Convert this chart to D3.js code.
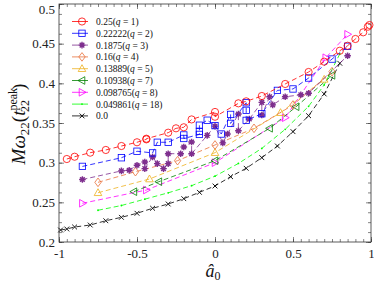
<!DOCTYPE html>
<html>
<head>
<meta charset="utf-8">
<script src="https://cdn.jsdelivr.net/npm/d3@7"></script>
<style>
body { margin: 0; background: #fff; }
text { font-family: "Liberation Serif", "DejaVu Serif", serif; }
</style>
</head>
<body>
<div id="chart"></div>
<script>
// data: [a0, M*omega22]
var series0 = [[-0.95,0.3046],[-0.9,0.3075],[-0.8,0.3126],[-0.7,0.316],[-0.6,0.321],[-0.5,0.3257],[-0.44,0.3294],[-0.44,0.3302],[-0.3,0.3378],[-0.25,0.3433],[-0.2,0.3446],[-0.15,0.3545],[0,0.3639],[0,0.3579],[0.15,0.3748],[0.2,0.3773],[0.3,0.384],[0.45,0.3992],[0.6,0.4143],[0.7,0.4273],[0.8,0.4411],[0.85,0.4474],[0.9,0.4559],[0.95,0.4643],[0.98,0.4714],[0.99,0.4735]];
var series1 = [[-0.85,0.2953],[-0.6,0.3062],[-0.5,0.3144],[-0.4,0.3123],[-0.37,0.3257],[-0.3,0.3257],[-0.2,0.3349],[-0.2,0.3305],[-0.1,0.3356],[-0.1,0.3395],[-0.1,0.3472],[-0.05,0.3535],[0,0.3467],[0.04,0.3361],[0.1,0.3608],[0.1,0.3495],[0.2,0.3755],[0.2,0.3659],[0.2,0.3533],[0.3,0.3617],[0.4,0.3911],[0.5,0.3929],[0.6,0.4067],[0.75,0.4306],[0.85,0.4467]];
var series2 = [[-0.85,0.2788],[-0.6,0.2896],[-0.55,0.2904],[-0.5,0.2967],[-0.45,0.3008],[-0.45,0.2925],[-0.4,0.3071],[-0.37,0.2988],[-0.33,0.2925],[-0.3,0.2988],[-0.3,0.3113],[-0.22,0.3113],[-0.2,0.3197],[-0.15,0.3260],[-0.15,0.3113],[-0.05,0.3344],[0,0.3460],[0.05,0.3250],[0.08,0.3361],[0.15,0.3613],[0.15,0.3403],[0.22,0.3550],[0.3,0.3760],[0.3,0.3600],[0.35,0.3830],[0.37,0.3729],[0.45,0.3830],[0.55,0.3856],[0.6,0.3875],[0.85,0.4348]];
var series3 = [[-0.75,0.2752],[-0.51,0.2886],[-0.24,0.3025],[0,0.3223],[0.25,0.3433],[0.5,0.3727],[0.75,0.4147]];
var series4 = [[-0.75,0.2621],[-0.42,0.2794],[0,0.3126],[0.42,0.363],[0.7,0.405]];
var series5 = [[-0.52,0.2634],[-0.36,0.276],[0,0.3025],[0.35,0.3433],[0.52,0.3705],[0.75,0.41]];
var series6 = [[-0.85,0.2488],[-0.44,0.2655],[0,0.300],[0.45,0.3567],[0.71,0.4323],[0.85,0.4618]];
var series7 = [[-0.75,0.240],[-0.6,0.246],[-0.45,0.254],[-0.3,0.262],[-0.15,0.271],[0,0.283],[0.15,0.299],[0.3,0.318],[0.45,0.342],[0.6,0.371],[0.7,0.398],[0.8,0.437]];
var series8 = [[-0.99,0.2151],[-0.95,0.2164],[-0.9,0.2189],[-0.8,0.2214],[-0.7,0.2268],[-0.6,0.2311],[-0.5,0.2362],[-0.4,0.2425],[-0.3,0.2479],[-0.2,0.2546],[-0.1,0.2626],[0,0.2706],[0.1,0.2823],[0.2,0.2929],[0.3,0.3063],[0.4,0.321],[0.5,0.3391],[0.6,0.3592],[0.7,0.3866],[0.8,0.4253]];

var legendLabels = ["0.25(q = 1)","0.22222(q = 2)","0.1875(q = 3)","0.16(q = 4)","0.13889(q = 5)","0.10938(q = 7)","0.098765(q = 8)","0.049861(q = 18)","0.0"];
var colors = ["#ff0000","#0000ff","#7e2f8e","#e8703a","#edb120","#008000","#ff00ff","#00ff00","#000000"];
var symbols = ["circle","square","star","diamond","triUp","triLeft","triRight","dot","cross"];
var xTicks = [-1,-0.5,0,0.5,1];
var yTicks = [0.2,0.25,0.3,0.35,0.4,0.45,0.5];

var allSeries = [series0,series1,series2,series3,series4,series5,series6,series7,series8];

var W = 374, H = 285;
var margin = {left: 59, top: 4, right: 3, bottom: 43};
var pw = W - margin.left - margin.right, ph = H - margin.top - margin.bottom;

var svg = d3.select("#chart").append("svg").attr("width", W).attr("height", H);
var g = svg.append("g").attr("transform", "translate(" + margin.left + "," + margin.top + ")");

var x = d3.scaleLinear().domain([-1, 1]).range([0, pw]);
var y = d3.scaleLinear().domain([0.2, 0.5]).range([ph, 0]);

// ticks, inward on all sides
function tickAxis(axis, ticks, minor, tf) {
    var a = g.append("g").attr("transform", tf);
    a.call(axis.tickValues(minor).tickSize(-3).tickFormat(""));
    a.select(".domain").remove();
    a.selectAll("line").attr("stroke", "#333").attr("stroke-width", 0.6);
    var b = g.append("g").attr("transform", tf);
    b.call(axis.tickValues(ticks).tickSize(-5));
    b.select(".domain").remove();
    b.selectAll("line").attr("stroke", "#333").attr("stroke-width", 0.6);
    return b;
}
var xMinor = d3.range(-1, 1.0001, 0.05).map(function(d){ return +d.toFixed(2); });
var yMinor = d3.range(0.2, 0.5001, 0.0125).map(function(d){ return +d.toFixed(4); });

var bx = tickAxis(d3.axisBottom(x), xTicks, xMinor, "translate(0," + ph + ")");
bx.selectAll("text").attr("font-size", 13).attr("fill", "#222").attr("dy", "1.0em")
    .text(function(d){ return d === 0 ? "0" : String(d); });
var tx = tickAxis(d3.axisTop(x), xTicks, xMinor, "translate(0,0)");
tx.selectAll("text").remove();
var ly = tickAxis(d3.axisLeft(y), yTicks, yMinor, "translate(0,0)");
ly.selectAll("text").attr("font-size", 13).attr("fill", "#222").attr("x", -4)
    .attr("dy", function(d){ return d === 0.5 ? "0.7em" : "0.32em"; })
    .text(function(d){ return String(d); });
var ry = tickAxis(d3.axisRight(y), yTicks, yMinor, "translate(" + pw + ",0)");
ry.selectAll("text").remove();

g.append("rect").attr("width", pw).attr("height", ph)
    .attr("fill", "none").attr("stroke", "#333").attr("stroke-width", 0.8);

// markers
function drawMarker(sel, sym, color) {
    if (sym === "circle") {
        sel.append("circle").attr("r", 3.6).attr("fill", "none").attr("stroke", color).attr("stroke-width", 0.8);
    } else if (sym === "square") {
        sel.append("rect").attr("x", -3.2).attr("y", -3.2).attr("width", 6.4).attr("height", 6.4)
            .attr("fill", "none").attr("stroke", color).attr("stroke-width", 0.8);
    } else if (sym === "star") {
        sel.append("path").attr("d", "M-3.3,0L3.3,0M0,-3.3L0,3.3M-2.3,-2.3L2.3,2.3M-2.3,2.3L2.3,-2.3")
            .attr("stroke", color).attr("stroke-width", 1.4);
        sel.append("circle").attr("r", 1.9).attr("fill", color);
    } else if (sym === "diamond") {
        sel.append("path").attr("d", "M0,-4.3L3.2,0L0,4.3L-3.2,0Z").attr("fill", "none").attr("stroke", color).attr("stroke-width", 0.8);
    } else if (sym === "triUp") {
        sel.append("path").attr("d", "M0,-4L3.8,2.8L-3.8,2.8Z").attr("fill", "none").attr("stroke", color).attr("stroke-width", 0.8);
    } else if (sym === "triLeft") {
        sel.append("path").attr("d", "M-4,0L2.8,-3.8L2.8,3.8Z").attr("fill", "none").attr("stroke", color).attr("stroke-width", 0.8);
    } else if (sym === "triRight") {
        sel.append("path").attr("d", "M4,0L-2.8,-3.8L-2.8,3.8Z").attr("fill", "none").attr("stroke", color).attr("stroke-width", 0.8);
    } else if (sym === "dot") {
        sel.append("circle").attr("r", 0.9).attr("fill", color);
    } else if (sym === "cross") {
        sel.append("path").attr("d", "M-2.4,-2.4L2.4,2.4M-2.4,2.4L2.4,-2.4").attr("stroke", color).attr("stroke-width", 0.9);
    }
}

var line = d3.line().x(function(d){ return x(d[0]); }).y(function(d){ return y(d[1]); });

// draw from last to first so red is on top
for (var i = allSeries.length - 1; i >= 0; i--) {
    var s = allSeries[i];
    g.append("path").datum(s).attr("d", line)
        .attr("fill", "none").attr("stroke", colors[i]).attr("stroke-width", 0.8)
        .attr("stroke-dasharray", "5,3");
    var pts = g.append("g").selectAll("g").data(s).enter().append("g")
        .attr("transform", function(d){ return "translate(" + x(d[0]) + "," + y(d[1]) + ")"; });
    drawMarker(pts, symbols[i], colors[i]);
}

// legend
var leg = g.append("g").attr("transform", "translate(13,17.5)");
legendLabels.forEach(function(lab, i) {
    var row = leg.append("g").attr("transform", "translate(0," + (i * 11.8) + ")");
    row.append("line").attr("x1", 0).attr("x2", 16).attr("y1", 0).attr("y2", 0)
        .attr("stroke", colors[i]).attr("stroke-width", 0.8);
    drawMarker(row.append("g").attr("transform", "translate(10,0)"), symbols[i], colors[i]);
    var t = row.append("text").attr("x", 24).attr("y", 3.5).attr("font-size", 9.5).attr("fill", "#111");
    var m = lab.match(/^([0-9.]+)(\(q = (\d+)\))?$/);
    t.append("tspan").text(m[1]);
    if (m[2]) {
        t.append("tspan").text("(");
        t.append("tspan").attr("font-style", "italic").text("q");
        t.append("tspan").text(" = " + m[3] + ")");
    }
});

// axis labels
var xl = svg.append("text").attr("x", 213).attr("y", 277).attr("text-anchor", "middle")
    .attr("font-size", 18).attr("fill", "#111");
xl.append("tspan").attr("font-style", "italic").text("â");
xl.append("tspan").attr("font-size", 12).attr("dy", 3).text("0");

var yl = svg.append("text").attr("transform", "translate(25,124) rotate(-90)")
    .attr("text-anchor", "middle").attr("font-size", 19).attr("fill", "#111");
yl.append("tspan").attr("font-style", "italic").text("Mω");
yl.append("tspan").attr("font-size", 13).attr("dy", 4).text("22");
yl.append("tspan").attr("dy", -4).text("(");
yl.append("tspan").attr("font-style", "italic").text("t");
yl.append("tspan").attr("font-size", 12).attr("dy", -8).text("peak");
yl.append("tspan").attr("font-size", 12).attr("dx", -24).attr("dy", 12).text("22");
yl.append("tspan").attr("dx", 10).attr("dy", -4).text(")");
</script>
</body>
</html>
